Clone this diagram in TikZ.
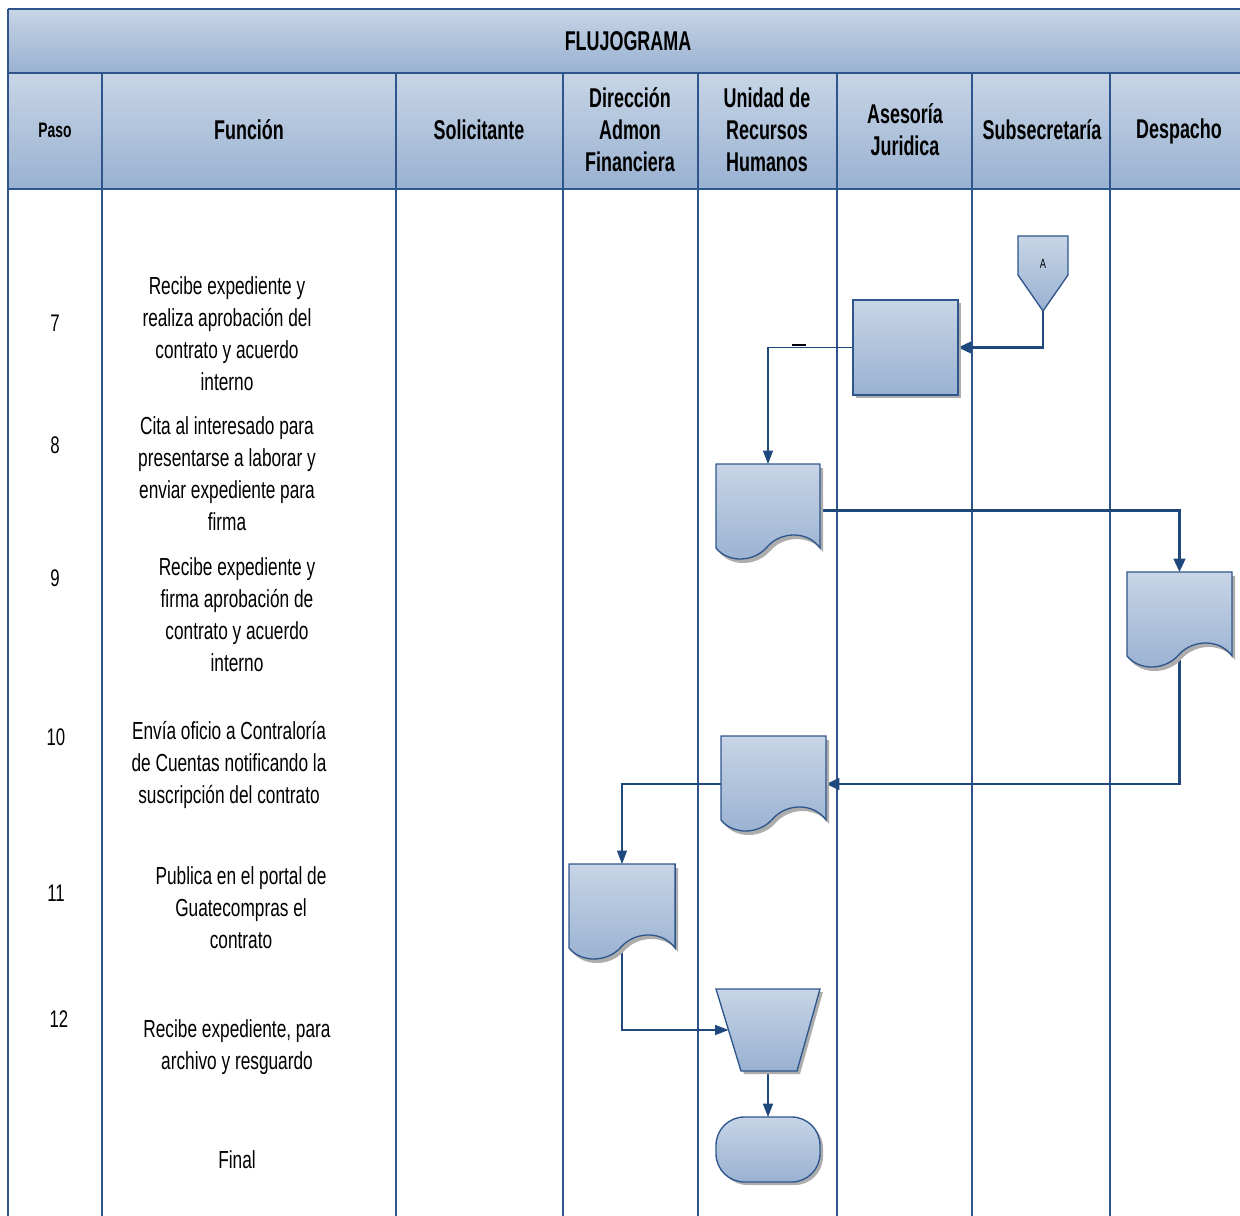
\documentclass[tikz,border=0pt]{standalone}
\usepackage{fontspec}
\setmainfont{Liberation Sans}[FakeStretch=0.7]
\newfontfamily\hdrfont{Liberation Sans}[FakeStretch=0.66]
\usetikzlibrary{calc,arrows.meta}
\definecolor{lanec}{RGB}{46,86,140}
\definecolor{arrc}{RGB}{31,73,125}
\definecolor{gtop}{RGB}{199,213,230}
\definecolor{gbot}{RGB}{153,177,209}
\newcommand{\mydocpath}{(0,0) -- (104,0) -- (104,84) .. controls (92,67) and (66,67) .. (52,82) .. controls (38,99) and (12,99) .. (0,84) -- cycle}
\begin{document}
\begin{tikzpicture}[x=0.6pt,y=-0.6pt,
 lane/.style={draw=lanec,line width=1.1pt},
 shp/.style={draw=lanec,line width=0.8pt,top color=gtop,bottom color=gbot},
 shd/.style={fill=black!32},
 hdr/.style={font=\hdrfont\fontsize{16.3}{19.2}\selectfont\bfseries,align=center},
 txt/.style={font=\fontsize{14.8}{19.2}\selectfont,align=center},
 num/.style={font=\fontsize{14.4}{15}\selectfont},
 flow/.style={draw=arrc,line width=1.4pt,-{Triangle[length=8pt,width=7pt]}},
 thin/.style={draw=arrc,line width=0.7pt,-{Triangle[length=8pt,width=6pt]}},
 mid/.style={draw=arrc,line width=1.1pt,-{Triangle[length=8pt,width=6pt]}},
 hole/.style n args={2}{inner sep=0pt,outer sep=0pt,minimum width=#1*0.6pt,minimum height=#2*0.6pt}]
\useasboundingbox (0,0) rectangle (1240,1216);
\clip (0,0) rectangle (1240,1216);
% header
\path[top color=gtop,bottom color=gbot] (8,9) rectangle (1260,73);
\path[top color=gtop,bottom color=gbot] (8,73) rectangle (1260,189);
\draw[lane] (8,9) -- (1260,9);
\draw[lane] (8,73) -- (1260,73);
\draw[lane] (8,189) -- (1260,189);
\draw[lane] (8,9) -- (8,1230);
\foreach \x in {102,396,563,698,837,972,1110} \draw[lane] (\x,73) -- (\x,1230);
\node[hdr] (title) at (628,41) {FLUJOGRAMA};
\node[hdr,font=\hdrfont\fontsize{12.6}{15}\selectfont\bfseries] (hpaso) at (55,130) {Paso};
\node[hdr] (hfun) at (249,130) {Función};
\node[hdr] (hsol) at (479,130) {Solicitante};
\node[hdr] (hdir) at (630,130) {Dirección\\Admon\\Financiera};
\node[hdr] (hrrhh) at (767,130) {Unidad de\\Recursos\\Humanos};
\node[hdr] (hase) at (905,130) {Asesoría\\Juridica};
\node[hdr] (hsub) at (1042,130) {Subsecretaría};
\node[hdr] (hdes) at (1179,131) {Despacho};
% step numbers
\node[num] (n7) at (55,323) {7};
\node[num] (n8) at (55,445) {8};
\node[num] (n9) at (55,578) {9};
\node[num] (n10) at (56,737) {10};
\node[num] (n11) at (56,893) {11};
\node[num] (n12) at (59,1019) {12};
% functions
\node[txt] (f7) at (227,333.5) {Recibe expediente y\\realiza aprobación del\\contrato y acuerdo\\interno};
\node[txt] (f8) at (227,474) {Cita al interesado para\\presentarse a laborar y\\enviar expediente para\\firma};
\node[txt] (f9) at (237,614.5) {Recibe expediente y\\firma aprobación de\\contrato y acuerdo\\interno};
\node[txt] (f10) at (229,765) {Envía oficio a Contraloría\\de Cuentas notificando la\\suscripción del contrato};
\node[txt] (f11) at (241,908) {Publica en el portal de\\Guatecompras el\\contrato};
\node[txt] (f12) at (237,1047) {Recibe expediente, para\\archivo y resguardo};
\node[txt] (ffin) at (237,1160) {Final};
% invisible named nodes for shapes
\node[hole={50}{75}] (A) at (1043,273.5) {};
\node[hole={105}{95}] (P) at (905.5,347.5) {};
\node[hole={104}{93}] (D1) at (768,510.5) {};
\node[hole={105}{96}] (D2) at (1179.5,620) {};
\node[hole={105}{96}] (D3) at (773.5,784) {};
\node[hole={106}{96}] (D4) at (622,912) {};
\node[hole={104}{82}] (T) at (768,1030) {};
\node[hole={104}{65}] (E) at (768,1149.5) {};
\coordinate (TW) at (728.5,1030);
% connectors
\draw[flow] (A.south) |- (P.east);
\draw[thin] (P.west) -| (D1.north);
\draw[black,line width=0.8pt] (792,345) -- (806,345);
\draw[flow] (D1.east) -| (D2.north);
\draw[flow] (D2.center) |- (D3.east);
\draw[thin] (D3.west) -| (D4.north);
\draw[thin] (D4.center) |- (TW);
\draw[mid] (T.center) -- (E.north);
% shapes
\path[shp] (1018,236) -- (1068,236) -- (1068,275) -- (1043,311) -- (1018,275) -- cycle;
\node[font=\fontsize{8}{9}\selectfont] (Alabel) at (1043,264) {A};
\fill[shd] (856,303) rectangle (961,398);
\path[shp] (853,300) rectangle (958,395);
\begin{scope}[shift={(716,464)}]
\fill[shd,shift={(3,4)}] \mydocpath;
\path[shp] \mydocpath;
\end{scope}
\begin{scope}[shift={(1127,572)},xscale=1.01]
\fill[shd,shift={(3,4)}] \mydocpath;
\path[shp] \mydocpath;
\end{scope}
\begin{scope}[shift={(721,736)},xscale=1.01]
\fill[shd,shift={(3,4)}] \mydocpath;
\path[shp] \mydocpath;
\end{scope}
\begin{scope}[shift={(569,864)},xscale=1.02]
\fill[shd,shift={(3,4)}] \mydocpath;
\path[shp] \mydocpath;
\end{scope}
\fill[shd] (719,992) -- (823,992) -- (800,1074) -- (744,1074) -- cycle;
\path[shp] (716,989) -- (820,989) -- (797,1071) -- (741,1071) -- cycle;
\fill[shd,rounded corners=17pt] (719,1120) rectangle (823,1185);
\path[shp,rounded corners=17pt] (716,1117) rectangle (820,1182);
\end{tikzpicture}
\end{document}
